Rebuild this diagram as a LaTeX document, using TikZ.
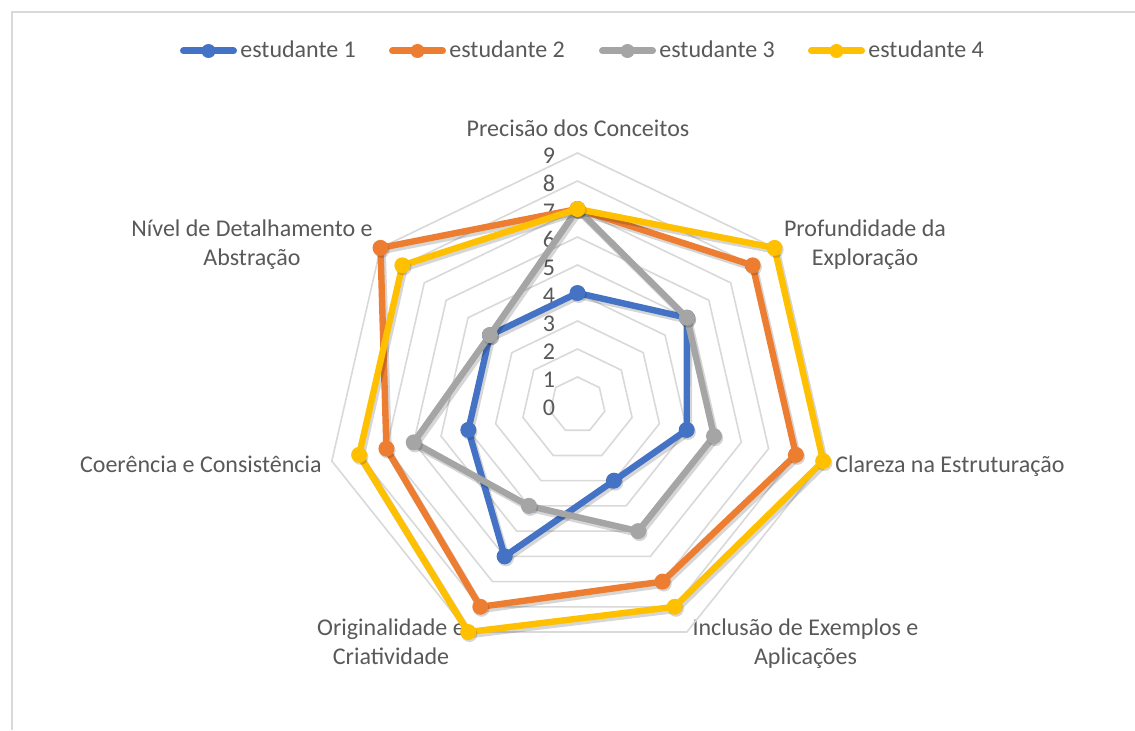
\documentclass[tikz,border=0pt]{standalone}
\usepackage{fontspec}
\setmainfont{Carlito}
\definecolor{cblue}{HTML}{4472C4}
\definecolor{corange}{HTML}{ED7D31}
\definecolor{cgray}{HTML}{A5A5A5}
\definecolor{cyellow}{HTML}{FFC000}
\definecolor{ctext}{HTML}{595959}
\definecolor{cgrid}{HTML}{D9D9D9}
\begin{document}
\begin{tikzpicture}[x=0.5pt,y=0.5pt,
  lbl/.style={text=ctext,font=\fontsize{12}{14.5}\selectfont,inner sep=0pt},
  gridline/.style={draw=cgrid,line width=0.8pt,line join=miter},
  frameline/.style={draw=cgrid,line width=0.8pt},
  seriesline/.style={line width=3.2pt,line join=round,line cap=round},
  shadowline/.style={line width=3.6pt,line join=round,line cap=round,draw=black,opacity=0.16},
  legline/.style={line width=3.5pt,line cap=round},
  dot/.style={circle,inner sep=0pt,minimum size=8pt},
  ldot/.style={circle,inner sep=0pt,minimum size=7pt}]
\useasboundingbox (0,0) rectangle (1135,730);
\fill[white] (0,0) rectangle (1135,730);
% frame
\coordinate (fa) at (12,0);
\coordinate (fb) at (12,718);
\coordinate (fc) at (1135,718);
\draw[frameline] (fa) -- (fb) -- (fc);
% legend
\foreach \col/\x/\n in {cblue/180/1, corange/389/2, cgray/599/3, cyellow/808/4} {
  \coordinate (la\n) at (\x+3.5,679);
  \coordinate (lb\n) at (\x+53.5,679);
  \draw[legline,draw=\col] (la\n) -- (lb\n);
  \node[ldot,fill=\col] (lm\n) at (\x+28.5,679) {};
  \node[lbl,anchor=base west] (lt\n) at (\x+60,672) {estudante \n};
}
% axis labels
\node[lbl,anchor=base] (a0) at (578,594) {Precisão dos Conceitos};
\node[lbl,align=center,anchor=base] (a1) at (865,465) {Profundidade da\\Exploração};
\node[lbl,anchor=base west] (a2) at (835,258) {Clareza na Estruturação};
\node[lbl,align=center,anchor=base] (a3) at (805.5,66) {Inclusão de Exemplos e\\Aplicações};
\node[lbl,align=center,anchor=base] (a4) at (391,66) {Originalidade e\\Criatividade};
\node[lbl,anchor=base east] (a5) at (322,258) {Coerência e Consistência};
\node[lbl,align=center,anchor=base] (a6) at (252,465) {Nível de Detalhamento e\\Abstração};
\begin{scope}[shift={(577.5,325)}]
  % grid
  \foreach \r in {1,...,9} {
    \draw[gridline] (90:{28*\r}) \foreach \k in {1,...,6} { -- ({90-\k*360/7}:{28*\r}) } -- cycle;
  }
  % ticks
  \foreach \v in {0,...,9} {
    \node[lbl,anchor=base east] (t\v) at (-22,{28*\v-10.5}) {\v};
  }
  % series
  \foreach \col/\vals [count=\s] in {cblue/{4,5,4,3,6,4,4}, corange/{7,8,8,7,8,7,9}, cgray/{7,5,5,5,4,6,4}, cyellow/{7,9,9,8,9,8,8}} {
    \foreach \v [count=\k from 0] in \vals {
      \coordinate (p\s-\k) at ({90-\k*360/7}:{28*\v});
    }
    \draw[shadowline,transform canvas={shift={(0.9pt,-1.3pt)}}] (p\s-0) -- (p\s-1) -- (p\s-2) -- (p\s-3) -- (p\s-4) -- (p\s-5) -- (p\s-6) -- cycle;
    \draw[seriesline,draw=\col] (p\s-0) -- (p\s-1) -- (p\s-2) -- (p\s-3) -- (p\s-4) -- (p\s-5) -- (p\s-6) -- cycle;
    \foreach \k in {0,...,6} {
      \node[dot,fill=black,opacity=0.16,xshift=0.6pt,yshift=-1pt] at (p\s-\k) {};
      \node[dot,fill=\col] (m\s-\k) at (p\s-\k) {};
    }
  }
\end{scope}
\end{tikzpicture}
\end{document}
